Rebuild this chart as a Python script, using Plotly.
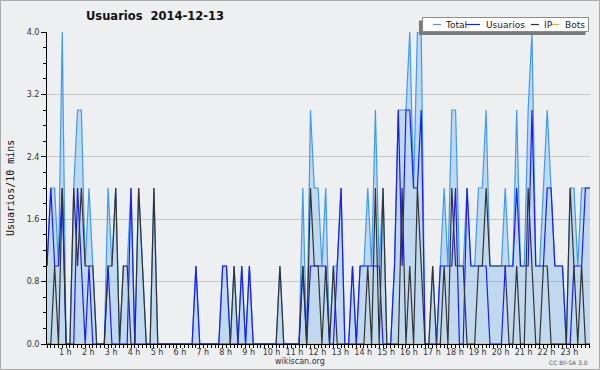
import plotly.graph_objects as go

# 10-minute slots of the day (0 = 00:00 ... 143 = 23:50)
slots = list(range(144))

total = [1, 2, 2, 1, 4, 0, 0, 2, 3, 3, 1, 2, 1, 0, 0, 0, 2, 1, 2, 0, 1, 1, 2, 0,
         2, 1, 0, 0, 2, 0, 0, 0, 0, 0, 0, 0, 0, 0, 0, 1, 0, 0, 0, 0, 0, 0, 1, 1,
         0, 1, 0, 1, 0, 1, 0, 0, 0, 0, 0, 0, 0, 1, 0, 0, 0, 0, 0, 2, 0, 3, 2, 2,
         1, 2, 0, 1, 1, 2, 0, 0, 1, 0, 1, 1, 2, 1, 3, 1, 2, 0, 0, 1, 3, 3, 3, 4,
         2, 4, 4, 0, 0, 1, 0, 1, 2, 1, 3, 3, 1, 1, 2, 1, 1, 2, 2, 3, 1, 1, 1, 1,
         2, 1, 1, 3, 1, 1, 3, 4, 1, 1, 2, 3, 2, 1, 1, 1, 0, 2, 2, 1, 2, 2, 2, 2]

usuarios = [1, 2, 1, 1, 2, 0, 0, 0, 2, 1, 0, 1, 0, 0, 0, 0, 1, 0, 0, 0, 0, 0, 2, 0,
            0, 0, 0, 0, 0, 0, 0, 0, 0, 0, 0, 0, 0, 0, 0, 1, 0, 0, 0, 0, 0, 0, 1, 1,
            0, 0, 0, 1, 0, 1, 0, 0, 0, 0, 0, 0, 0, 0, 0, 0, 0, 0, 0, 1, 0, 1, 1, 1,
            1, 1, 0, 0, 1, 2, 0, 0, 1, 0, 1, 1, 1, 1, 1, 1, 0, 0, 0, 1, 3, 1, 3, 3,
            2, 2, 3, 0, 0, 0, 0, 1, 1, 1, 1, 2, 0, 0, 2, 1, 1, 1, 1, 1, 0, 0, 0, 0,
            1, 1, 1, 2, 1, 1, 1, 3, 1, 1, 1, 2, 2, 1, 1, 1, 0, 0, 1, 1, 1, 2, 2, 2]

ip = [0, 0, 1, 0, 2, 0, 0, 2, 1, 2, 1, 1, 1, 0, 0, 0, 1, 1, 2, 0, 1, 1, 0, 0,
      2, 1, 0, 0, 2, 0, 0, 0, 0, 0, 0, 0, 0, 0, 0, 0, 0, 0, 0, 0, 0, 0, 0, 0,
      0, 1, 0, 0, 0, 0, 0, 0, 0, 0, 0, 0, 0, 1, 0, 0, 0, 0, 0, 1, 0, 2, 1, 1,
      0, 1, 0, 1, 0, 0, 0, 0, 0, 0, 0, 0, 1, 0, 2, 0, 2, 0, 0, 0, 0, 2, 0, 1,
      0, 2, 1, 0, 0, 1, 0, 0, 1, 0, 2, 1, 1, 1, 0, 0, 0, 1, 1, 2, 1, 1, 1, 1,
      1, 0, 0, 1, 0, 0, 2, 1, 0, 0, 1, 1, 0, 0, 0, 0, 0, 2, 1, 0, 1, 0, 0, 0]

bots = [0, 0, 0, 0, 0, 0, 0, 0, 0, 0, 0, 0, 0, 0, 0, 0, 0, 0, 0, 0, 0, 0, 0, 0,
        0, 0, 0, 0, 0, 0, 0, 0, 0, 0, 0, 0, 0, 0, 0, 0, 0, 0, 0, 0, 0, 0, 0, 0,
        0, 0, 0, 0, 0, 0, 0, 0, 0, 0, 0, 0, 0, 0, 0, 0, 0, 0, 0, 0, 0, 0, 0, 0,
        0, 0, 0, 0, 0, 0, 0, 0, 0, 0, 0, 0, 0, 0, 0, 0, 0, 0, 0, 0, 0, 0, 0, 0,
        0, 0, 0, 0, 0, 0, 0, 0, 0, 0, 0, 0, 0, 0, 0, 0, 0, 0, 0, 0, 0, 0, 0, 0,
        0, 0, 0, 0, 0, 0, 0, 0, 0, 0, 0, 0, 0, 0, 0, 0, 0, 0, 0, 0, 0, 0, 0, 0]

hour_labels = ["%d h" % h for h in range(1, 24)]
hour_positions = [6 * h - 1.2 for h in range(1, 24)]
y_ticks = [0.0, 0.8, 1.6, 2.4, 3.2, 4.0]

series_names = ["Total", "Usuarios", "IP", "Bots"]
series_colors = ["#3d9bf5", "#1a1aff", "#333333", "#ffa31a"]

W, H = 600, 370
ML, MR, MT, MB = 47, 10, 32, 26
PW, PH = W - ML - MR, H - MT - MB


def px(x):
    return (x - ML) / PW


def py(y):
    return (H - MB - y) / PH


fig = go.Figure()
fig.add_trace(go.Scatter(x=slots, y=bots, mode="lines", name="Bots",
                         line=dict(color=series_colors[3], width=1.2), showlegend=False))
fig.add_trace(go.Scatter(x=slots, y=total, mode="lines", name="Total", fill="tozeroy",
                         fillcolor="rgba(60,150,230,0.25)",
                         line=dict(color=series_colors[0], width=1.2), showlegend=False))
fig.add_trace(go.Scatter(x=slots, y=usuarios, mode="lines", name="Usuarios",
                         line=dict(color=series_colors[1], width=1.2), showlegend=False))
fig.add_trace(go.Scatter(x=slots, y=ip, mode="lines", name="IP",
                         line=dict(color=series_colors[2], width=1.2), showlegend=False))

fig.update_layout(
    width=W, height=H,
    margin=dict(l=ML, r=MR, t=MT, b=MB),
    paper_bgcolor="#eeeff1", plot_bgcolor="#eeeff1",
    showlegend=False,
    font=dict(family="DejaVu Sans", size=8, color="#333333"),
)
fig.update_xaxes(
    range=[0, 142.2], showgrid=False, zeroline=False,
    showline=True, linecolor="black", linewidth=1, layer="above traces",
    tickmode="array", tickvals=hour_positions, ticktext=hour_labels,
    ticks="", tickfont=dict(size=8, color="#333333"),
    minor=dict(tickmode="linear", tick0=0, dtick=1, ticks="outside", ticklen=3,
               tickcolor="black", showgrid=False),
)
fig.update_yaxes(
    range=[0, 4], zeroline=False,
    showline=True, linecolor="black", linewidth=1, layer="above traces",
    tickmode="array", tickvals=y_ticks, ticktext=["%.1f" % v for v in y_ticks],
    ticks="outside", ticklen=5, tickcolor="black",
    showgrid=True, gridcolor="#c8c8c8", gridwidth=1,
    tickfont=dict(size=8, color="#333333"),
    minor=dict(tickmode="linear", tick0=0, dtick=0.2, ticks="outside", ticklen=3,
               tickcolor="black", showgrid=False),
)

shapes = []
annotations = []

# outer frame
shapes.append(dict(type="rect", xref="paper", yref="paper",
                   x0=px(0.5), x1=px(W - 0.5), y0=py(H - 0.5), y1=py(0.5),
                   line=dict(color="#aaaaaa", width=1), fillcolor="rgba(0,0,0,0)", layer="above"))

# legend shadow and box
shapes.append(dict(type="rect", xref="paper", yref="paper",
                   x0=px(419), x1=px(585.5), y0=py(35), y1=py(20.5),
                   line=dict(width=0), fillcolor="#7a7a7a", layer="above"))
shapes.append(dict(type="rect", xref="paper", yref="paper",
                   x0=px(422.5), x1=px(588.5), y0=py(31.5), y1=py(17.5),
                   line=dict(color="#8c8c8c", width=1), fillcolor="white", layer="above"))

leg_lines = [(433, 441), (466, 480), (531, 539), (551, 559)]
leg_text_x = [443, 484, 542, 563]
for name, color, (a, b), tx in zip(series_names, series_colors, leg_lines, leg_text_x):
    shapes.append(dict(type="line", xref="paper", yref="paper",
                       x0=px(a), x1=px(b), y0=py(24.5), y1=py(24.5),
                       line=dict(color=color, width=1.2), layer="above"))
    annotations.append(dict(text=name, xref="paper", yref="paper", x=px(tx), y=py(24.5),
                            xanchor="left", yanchor="middle", showarrow=False,
                            font=dict(family="DejaVu Sans", size=9, color="#222222")))

# title
annotations.append(dict(text="<b>Usuarios\u00a0\u00a02014-12-13</b>", xref="paper", yref="paper",
                        x=px(84), y=py(16.5), xanchor="left", yanchor="middle", showarrow=False,
                        font=dict(family="DejaVu Sans", size=11.5, color="#111111")))
# y axis title
annotations.append(dict(text="Usuarios/10 mins", xref="paper", yref="paper",
                        x=px(10), y=py(188), xanchor="center", yanchor="middle", showarrow=False,
                        textangle=-90,
                        font=dict(family="DejaVu Sans Mono", size=10, color="#111111")))
# footer
annotations.append(dict(text="wikiscan.org", xref="paper", yref="paper",
                        x=px(300), y=py(361), xanchor="center", yanchor="middle", showarrow=False,
                        font=dict(family="DejaVu Sans", size=8, color="#333333")))
annotations.append(dict(text="CC BY-SA 3.0", xref="paper", yref="paper",
                        x=px(590), y=py(362), xanchor="right", yanchor="middle", showarrow=False,
                        font=dict(family="DejaVu Sans", size=6, color="#555555")))

fig.update_layout(shapes=shapes, annotations=annotations)
fig.write_html("out.html",
               config={"displayModeBar": False},
               post_script="document.body.style.margin='0';document.body.style.padding='0';"
                           "document.body.style.overflow='hidden';")
